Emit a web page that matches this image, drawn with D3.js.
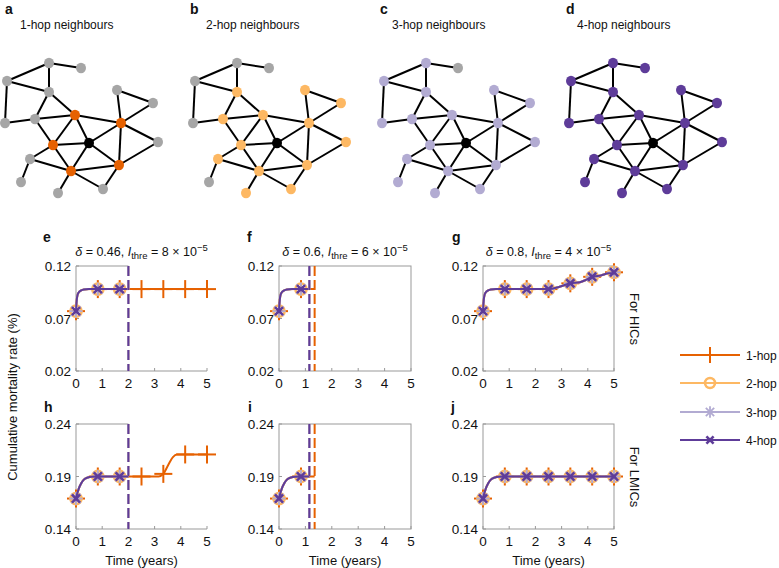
<!DOCTYPE html>
<html><head><meta charset="utf-8">
<script src="https://cdn.jsdelivr.net/npm/d3@7"></script>
<style>
body{margin:0;background:#fff}
text{font-family:"Liberation Sans",Arial,Helvetica,sans-serif;fill:#111}
</style>
</head><body>
<svg id="c" width="779" height="568"></svg>
<script>
// ---------------- data ----------------
const hopNames = ["1-hop","2-hop","3-hop","4-hop"];
const hopColors = ["#e66101","#fdb863","#b2abd2","#5e3c99"];
const hopMarkers = ["plus","circle","star","cross"];
const networkLetters = ["a","b","c","d"];
const networkTitles = ["1-hop neighbours","2-hop neighbours","3-hop neighbours","4-hop neighbours"];
const nodeX = [49,81,7,49,117,153,5,35,75,121,53,89,158,30,71,119,21,58,103];
const nodeY = [63,68,81,92,90,103,123,119,115,123,145,143,142,159,171,165,182,193,189];
const edges = [[0,1],[0,2],[0,3],[2,3],[2,6],[6,7],[3,7],[3,8],[7,8],[7,10],[8,9],[8,10],[8,11],
  [10,11],[10,13],[10,14],[13,14],[13,16],[11,9],[11,14],[11,15],[4,5],[4,9],[9,5],[9,12],[9,15],
  [12,15],[14,15],[14,17],[14,18],[15,18]];
const centreNode = 11;

const markerTimes = [0, 0.833, 1.667, 2.5, 3.333, 4.167, 5];
const xTicks = [0,1,2,3,4,5];
const yTicksHIC = [0.02,0.07,0.12];
const yTicksLMIC = [0.14,0.19,0.24];
const deltas = ["0.46","0.6","0.8"];
const thresholds = ["8","6","4"];

// trajectories (time, cumulative mortality %)
const hicFlatT = [0,0.02,0.05,0.1,0.2,0.3,0.5,0.833,5];
const hicFlatV = [0.077,0.085,0.0915,0.0948,0.0968,0.0976,0.098,0.098,0.098];
const hicRiseT = [0,0.02,0.05,0.1,0.2,0.3,0.5,0.833,2.5,2.9,3.333,3.7,3.95,4.167,4.5,4.8,5];
const hicRiseV = [0.077,0.085,0.0915,0.0948,0.0968,0.0976,0.098,0.098,0.098,0.1,0.1035,0.1045,0.107,0.1097,0.111,0.113,0.114];
const lmicFlatT = [0,0.05,0.1,0.2,0.3,0.45,0.6,0.833,5];
const lmicFlatV = [0.169,0.174,0.178,0.1835,0.187,0.189,0.1898,0.19,0.19];
const lmicStepT = [0,0.05,0.1,0.2,0.3,0.45,0.6,0.833,3.15,3.333,3.5,3.7,3.85,4.167,5];
const lmicStepV = [0.169,0.174,0.178,0.1835,0.187,0.189,0.1898,0.19,0.19,0.1925,0.2,0.2085,0.211,0.211,0.211];

// marker values at markerTimes
const markHICflat = [0.077,0.098,0.098,0.098,0.098,0.098,0.098];
const markHICrise = [0.077,0.098,0.098,0.098,0.1035,0.1097,0.114];
const markLMICflat = [0.169,0.19,0.19,0.19,0.19,0.19,0.19];
const markLMICstep = [0.169,0.19,0.19,0.19,0.1925,0.211,0.211];

// stop times (years) per hop
const stopsE = [5,2,2,2];
const stopsF = [1.35,1.15,1.15,1.15];
const stopsG = [5,5,5,5];

// ---------------- drawing ----------------
const svg = d3.select("#c");

// networks
const netOffsets = [0,188,377,564];
const nx = d3.scaleLinear().domain([0,1]).range([0,1]);
const ny = d3.scaleLinear().domain([0,1]).range([0,1]);
// hop distance by BFS
const adj = nodeX.map(()=>[]);
edges.forEach(([a,b])=>{adj[a].push(b);adj[b].push(a);});
const hop = nodeX.map(()=>Infinity); hop[centreNode]=0;
let q=[centreNode];
while(q.length){const n=q.shift(); adj[n].forEach(m=>{if(hop[m]===Infinity){hop[m]=hop[n]+1;q.push(m);}});}

networkLetters.forEach((L,k)=>{
  const off = netOffsets[k];
  const lx = [5,190,380,566][k];
  svg.append("text").attr("x",lx).attr("y",14).attr("font-weight","bold").attr("font-size",14).text(L);
  svg.append("text").attr("x",[20,206,392,577][k]).attr("y",29).attr("font-size",12).text(networkTitles[k]);
  const g = svg.append("g").attr("transform",`translate(${off},0)`);
  g.selectAll("line").data(edges).join("line")
    .attr("x1",d=>nx(nodeX[d[0]])).attr("y1",d=>ny(nodeY[d[0]]))
    .attr("x2",d=>nx(nodeX[d[1]])).attr("y2",d=>ny(nodeY[d[1]]))
    .attr("stroke","#000").attr("stroke-width",2);
  g.selectAll("ellipse").data(nodeX.map((x,i)=>i)).join("ellipse")
    .attr("cx",i=>nx(nodeX[i])).attr("cy",i=>ny(nodeY[i])).attr("rx",5).attr("ry",5.3)
    .attr("fill",i=> i===centreNode ? "#000" : (hop[i]<=k+1 ? hopColors[k] : "#a6a6a6"));
});

// line charts
const panels = [
  {L:"e",x:[76,207],row:0,t:0,curves:[[hicFlatT,hicFlatV],[hicFlatT,hicFlatV],[hicFlatT,hicFlatV],[hicFlatT,hicFlatV]],marks:[markHICflat,markHICflat,markHICflat,markHICflat],stops:stopsE,open:true,lx:43},
  {L:"f",x:[279,411],row:0,t:1,curves:[[hicFlatT,hicFlatV],[hicFlatT,hicFlatV],[hicFlatT,hicFlatV],[hicFlatT,hicFlatV]],marks:[markHICflat,markHICflat,markHICflat,markHICflat],stops:stopsF,open:false,lx:247},
  {L:"g",x:[483,614],row:0,t:2,curves:[[hicRiseT,hicRiseV],[hicRiseT,hicRiseV],[hicRiseT,hicRiseV],[hicRiseT,hicRiseV]],marks:[markHICrise,markHICrise,markHICrise,markHICrise],stops:stopsG,open:false,lx:452},
  {L:"h",x:[76,207],row:1,t:null,curves:[[lmicStepT,lmicStepV],[lmicFlatT,lmicFlatV],[lmicFlatT,lmicFlatV],[lmicFlatT,lmicFlatV]],marks:[markLMICstep,markLMICflat,markLMICflat,markLMICflat],stops:stopsE,open:true,lx:44},
  {L:"i",x:[279,411],row:1,t:null,curves:[[lmicFlatT,lmicFlatV],[lmicFlatT,lmicFlatV],[lmicFlatT,lmicFlatV],[lmicFlatT,lmicFlatV]],marks:[markLMICflat,markLMICflat,markLMICflat,markLMICflat],stops:stopsF,open:false,lx:248},
  {L:"j",x:[483,614],row:1,t:null,curves:[[lmicFlatT,lmicFlatV],[lmicFlatT,lmicFlatV],[lmicFlatT,lmicFlatV],[lmicFlatT,lmicFlatV]],marks:[markLMICflat,markLMICflat,markLMICflat,markLMICflat],stops:stopsG,open:false,lx:451}
];
const rows = [
  {domain:[0.02,0.12],range:[371,266],ticks:yTicksHIC,letterY:242},
  {domain:[0.14,0.24],range:[529,424],ticks:yTicksLMIC,letterY:412}
];

function drawMarker(g,type,cx,cy,color,s){
  const m = g.append("g").attr("transform",`translate(${cx},${cy})`).attr("stroke",color).attr("fill","none");
  if(type==="plus"){
    m.append("line").attr("x1",-s).attr("x2",s).attr("stroke-width",2);
    m.append("line").attr("y1",-s).attr("y2",s).attr("stroke-width",2);
  } else if(type==="circle"){
    m.append("circle").attr("r",s*0.62).attr("stroke-width",2.6);
  } else if(type==="star"){
    const a=s*0.72, b=s*0.52;
    m.append("line").attr("x1",-a).attr("x2",a).attr("stroke-width",1.8);
    m.append("line").attr("y1",-a).attr("y2",a).attr("stroke-width",1.8);
    m.append("line").attr("x1",-b).attr("y1",-b).attr("x2",b).attr("y2",b).attr("stroke-width",1.8);
    m.append("line").attr("x1",-b).attr("y1",b).attr("x2",b).attr("y2",-b).attr("stroke-width",1.8);
  } else {
    const c=s*0.45;
    m.append("line").attr("x1",-c).attr("y1",-c).attr("x2",c).attr("y2",c).attr("stroke-width",2.6);
    m.append("line").attr("x1",-c).attr("y1",c).attr("x2",c).attr("y2",-c).attr("stroke-width",2.6);
  }
}

panels.forEach(p=>{
  const R = rows[p.row];
  const xs = d3.scaleLinear().domain([0,5]).range(p.x);
  const ys = d3.scaleLinear().domain(R.domain).range(R.range);
  const g = svg.append("g");
  const yTop = R.range[1], yBot = R.range[0];
  // frame
  if(p.open){
    g.append("path").attr("d",`M${p.x[0]},${yTop}V${yBot}H${p.x[1]}M${p.x[0]},${yTop}H${xs(2)}`)
      .attr("fill","none").attr("stroke","#999").attr("stroke-width",1);
  } else {
    g.append("rect").attr("x",p.x[0]).attr("y",yTop).attr("width",p.x[1]-p.x[0]).attr("height",yBot-yTop)
      .attr("fill","none").attr("stroke","#999").attr("stroke-width",1);
  }
  // ticks
  xTicks.forEach(t=>{
    g.append("line").attr("x1",xs(t)).attr("x2",xs(t)).attr("y1",yBot).attr("y2",yBot-3).attr("stroke","#999");
    g.append("text").attr("x",xs(t)).attr("y",yBot+17).attr("text-anchor","middle").attr("font-size",13.5).text(t);
  });
  R.ticks.forEach(v=>{
    g.append("line").attr("x1",p.x[0]).attr("x2",p.x[0]+3).attr("y1",ys(v)).attr("y2",ys(v)).attr("stroke","#999");
    g.append("text").attr("x",p.x[0]-5).attr("y",ys(v)+5).attr("text-anchor","end").attr("font-size",13.5).text(v.toFixed(2));
  });
  // letter
  svg.append("text").attr("x",p.lx).attr("y",R.letterY).attr("font-weight","bold").attr("font-size",14).text(p.L);
  // title
  if(p.t!==null){
    const tt = svg.append("text").attr("x",(p.x[0]+p.x[1])/2).attr("y",256).attr("text-anchor","middle").attr("font-size",12.5);
    tt.append("tspan").attr("font-style","italic").text("δ");
    tt.append("tspan").text(` = ${deltas[p.t]}, `);
    tt.append("tspan").attr("font-style","italic").text("I");
    tt.append("tspan").attr("font-size",9.5).attr("dy",3).text("thre");
    tt.append("tspan").attr("dy",-3).text(` = ${thresholds[p.t]} × 10`);
    tt.append("tspan").attr("font-size",9.5).attr("dy",-5).text("−5");
  }
  const line = d3.line().x(d=>xs(d[0])).y(d=>ys(d[1])).curve(d3.curveMonotoneX);
  // series
  for(let h=0;h<4;h++){
    const [T,V] = p.curves[h];
    const stop = p.stops[h];
    const pts = [];
    T.forEach((t,i)=>{ if(t<stop-1e-9) pts.push([t,V[i]]); });
    pts.push([stop, pts[pts.length-1][1]]);
    g.append("path").attr("d",line(pts)).attr("fill","none").attr("stroke",hopColors[h]).attr("stroke-width",2);
    markerTimes.forEach((t,i)=>{
      if(t<=stop+1e-6) drawMarker(g,hopMarkers[h],xs(t),ys(p.marks[h][i]),hopColors[h],9);
    });
  }
  for(let h=0;h<4;h++){
    const stop = p.stops[h];
    if(stop<5){
      g.append("line").attr("x1",xs(stop)).attr("x2",xs(stop)).attr("y1",yTop).attr("y2",yBot)
        .attr("stroke",hopColors[h]).attr("stroke-width",2).attr("stroke-dasharray","10,4");
    }
  }
});

// side labels
svg.append("text").attr("transform","translate(630,319) rotate(90)").attr("text-anchor","middle").attr("font-size",13).text("For HICs");
svg.append("text").attr("transform","translate(630,477) rotate(90)").attr("text-anchor","middle").attr("font-size",13).text("For LMICs");
svg.append("text").attr("transform","translate(17,397) rotate(-90)").attr("text-anchor","middle").attr("font-size",13).text("Cumulative mortality rate (%)");
[[76,207],[279,411],[483,614]].forEach(r=>{
  svg.append("text").attr("x",(r[0]+r[1])/2).attr("y",565).attr("text-anchor","middle").attr("font-size",13).text("Time (years)");
});

// legend
const legY = [355,383,412,440];
hopNames.forEach((n,h)=>{
  const g = svg.append("g");
  g.append("line").attr("x1",680).attr("x2",740).attr("y1",legY[h]).attr("y2",legY[h]).attr("stroke",hopColors[h]).attr("stroke-width",2);
  drawMarker(g,hopMarkers[h],710,legY[h],hopColors[h],8);
  g.append("text").attr("x",746).attr("y",legY[h]+4.5).attr("font-size",12).text(n);
});
</script>
</body></html>
